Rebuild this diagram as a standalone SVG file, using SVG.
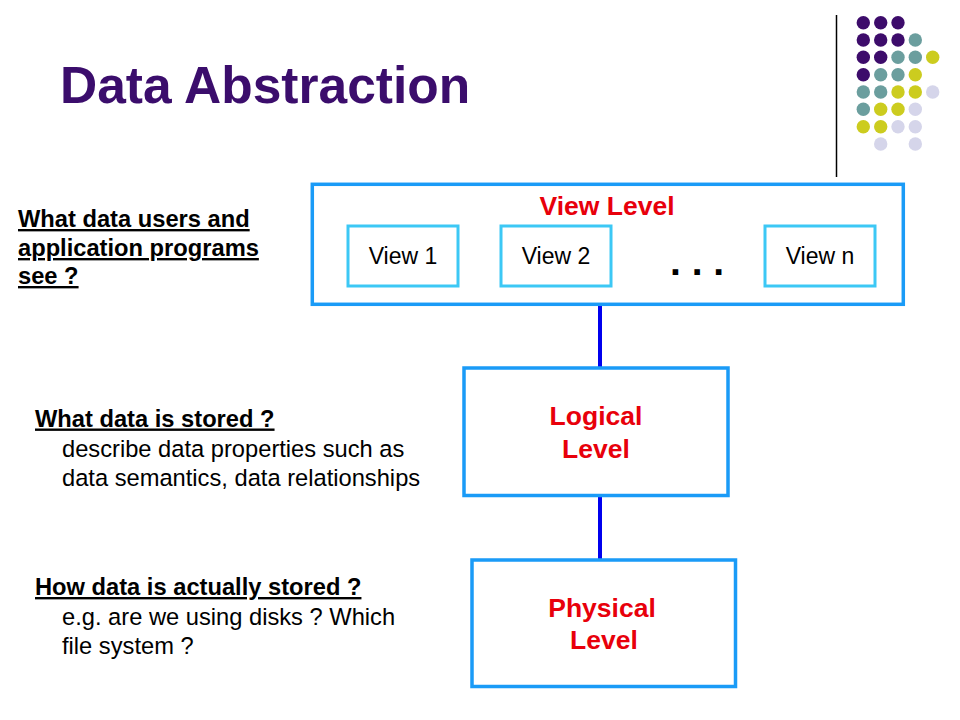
<svg xmlns="http://www.w3.org/2000/svg" width="960" height="720" viewBox="0 0 960 720">
<style>
.bg{fill:#ffffff}
.outer{fill:#ffffff;stroke:#1A9BF7;stroke-width:3.5}
.inner{fill:#ffffff;stroke:#3CC8F5;stroke-width:3}
.conn{stroke:#0000EE;stroke-width:4;fill:none}
.lvl{font-family:"Liberation Sans",Arial,sans-serif;font-weight:bold;font-size:26.5px;fill:#E8000B;text-anchor:middle}
.view{font-family:"Liberation Sans",Arial,sans-serif;font-size:23px;fill:#000000;text-anchor:middle}
.q{font-family:"Liberation Sans",Arial,sans-serif;font-weight:bold;font-size:23.7px;fill:#000000;text-decoration:underline}
.d{font-family:"Liberation Sans",Arial,sans-serif;font-size:23.7px;fill:#000000}
.title{font-family:"Liberation Sans",Arial,sans-serif;font-weight:bold;font-size:51.5px;fill:#3B0D6C}
.p{fill:#3D0C6B}.t{fill:#6B9E9E}.y{fill:#CCCC1F}.l{fill:#D5D5EA}
</style>
<rect class="bg" x="0" y="0" width="960" height="720"/>

<g id="decoration">
<line x1="836.5" y1="15" x2="836.5" y2="177" stroke="#000000" stroke-width="1.5"/>
<circle class="p" cx="863.3" cy="22.7" r="6.7"/><circle class="p" cx="880.7" cy="22.7" r="6.7"/><circle class="p" cx="898" cy="22.7" r="6.7"/>
<circle class="p" cx="863.3" cy="40" r="6.7"/><circle class="p" cx="880.7" cy="40" r="6.7"/><circle class="p" cx="898" cy="40" r="6.7"/><circle class="t" cx="915.3" cy="40" r="6.7"/>
<circle class="p" cx="863.3" cy="57.3" r="6.7"/><circle class="p" cx="880.7" cy="57.3" r="6.7"/><circle class="t" cx="898" cy="57.3" r="6.7"/><circle class="t" cx="915.3" cy="57.3" r="6.7"/><circle class="y" cx="932.7" cy="57.3" r="6.7"/>
<circle class="p" cx="863.3" cy="74.7" r="6.7"/><circle class="t" cx="880.7" cy="74.7" r="6.7"/><circle class="t" cx="898" cy="74.7" r="6.7"/><circle class="y" cx="915.3" cy="74.7" r="6.7"/>
<circle class="t" cx="863.3" cy="92" r="6.7"/><circle class="t" cx="880.7" cy="92" r="6.7"/><circle class="y" cx="898" cy="92" r="6.7"/><circle class="y" cx="915.3" cy="92" r="6.7"/><circle class="l" cx="932.7" cy="92" r="6.7"/>
<circle class="t" cx="863.3" cy="109.3" r="6.7"/><circle class="y" cx="880.7" cy="109.3" r="6.7"/><circle class="y" cx="898" cy="109.3" r="6.7"/><circle class="l" cx="915.3" cy="109.3" r="6.7"/>
<circle class="y" cx="863.3" cy="126.7" r="6.7"/><circle class="y" cx="880.7" cy="126.7" r="6.7"/><circle class="l" cx="898" cy="126.7" r="6.7"/><circle class="l" cx="915.3" cy="126.7" r="6.7"/>
<circle class="l" cx="880.7" cy="144" r="6.7"/><circle class="l" cx="915.3" cy="144" r="6.7"/>
</g>

<text class="title" x="60" y="103">Data Abstraction</text>

<g id="connectors">
<line class="conn" x1="600" y1="304" x2="600" y2="368"/>
<line class="conn" x1="600" y1="496" x2="600" y2="560"/>
</g>

<g id="view-level">
<rect class="outer" x="312.3" y="184.3" width="591" height="120"/>
<text class="lvl" x="607" y="215">View Level</text>
<text x="670" y="274.5" font-family="Liberation Sans,Arial,sans-serif" font-weight="bold" font-size="39px" fill="#000000">. . .</text>
</g>
<g id="view1">
<rect class="inner" x="348" y="226" width="110" height="60"/>
<text class="view" x="403" y="264">View 1</text>
</g>
<g id="view2">
<rect class="inner" x="501" y="226" width="110" height="60"/>
<text class="view" x="556" y="264">View 2</text>
</g>
<g id="viewn">
<rect class="inner" x="765" y="226" width="110" height="60"/>
<text class="view" x="820" y="264">View n</text>
</g>

<g id="logical-level">
<rect class="outer" x="464" y="368" width="264" height="127.5"/>
<text class="lvl" x="596" y="425">Logical</text>
<text class="lvl" x="596" y="457.5">Level</text>
</g>

<g id="physical-level">
<rect class="outer" x="472" y="560" width="263.5" height="126.5"/>
<text class="lvl" x="602" y="617">Physical</text>
<text class="lvl" x="604" y="649">Level</text>
</g>

<g id="notes">
<text class="q" x="18" y="227">What data users and</text>
<text class="q" x="18" y="256">application programs</text>
<text class="q" x="18" y="284">see ?</text>

<text class="q" x="35" y="426.5">What data is stored ?</text>
<text class="d" x="62" y="456.5">describe data properties such as</text>
<text class="d" x="62" y="485.5">data semantics, data relationships</text>

<text class="q" x="35" y="595">How data is actually stored ?</text>
<text class="d" x="62" y="624.5">e.g. are we using disks ? Which</text>
<text class="d" x="62" y="654">file system ?</text>
</g>
</svg>
